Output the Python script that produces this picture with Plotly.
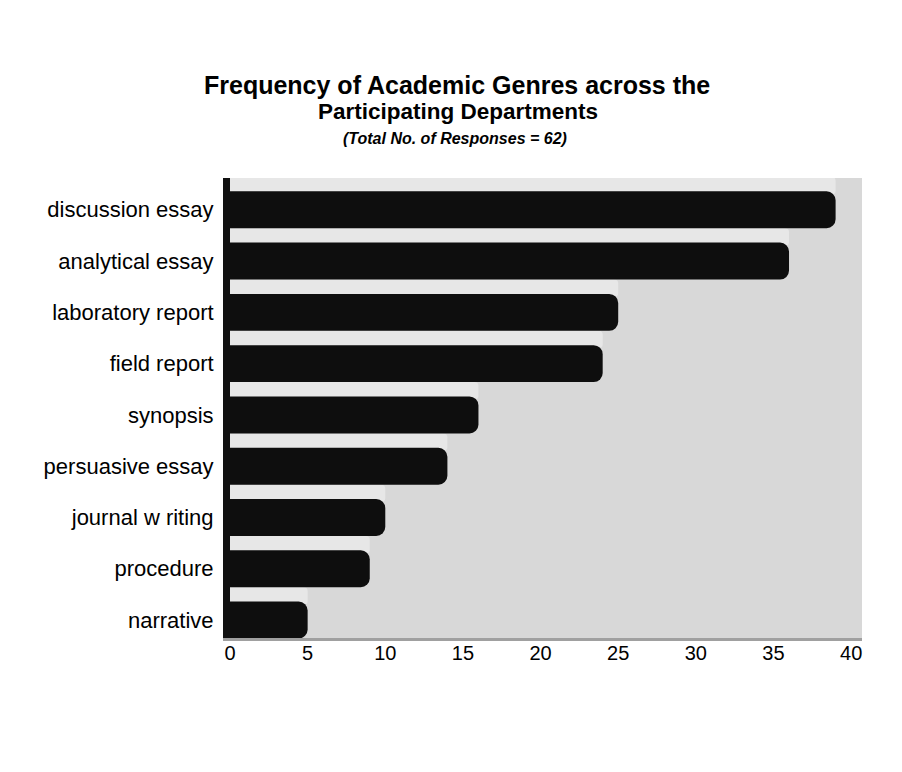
import plotly.graph_objects as go

categories = ["discussion essay", "analytical essay", "laboratory report", "field report",
              "synopsis", "persuasive essay", "journal w riting", "procedure", "narrative"]
values = [39, 36, 25, 24, 16, 14, 10, 9, 5]
x_ticks = [0, 5, 10, 15, 20, 25, 30, 35, 40]

FONT = "Liberation Sans, Arial, sans-serif"

# page offset of 8px (default body margin) is compensated in the margins
L, R, T, B = 222, 48, 170, 142
W, H = 902, 772
PW, PH = W - L - R, H - T - B


def px(xp):
    return (xp - 8 - L) / PW


def py(yp):
    return (H - B - (yp - 8)) / PH


fig = go.Figure()
# lighter top face (3D depth strip)
fig.add_trace(go.Bar(
    y=categories, x=values, orientation="h",
    offset=-0.64, width=0.34,
    marker=dict(color="#e7e7e7", line=dict(width=0), cornerradius=4),
    hoverinfo="skip", showlegend=False,
))
# dark front face
fig.add_trace(go.Bar(
    y=categories, x=values, orientation="h",
    offset=-0.36, width=0.72,
    marker=dict(color="#0e0e0e", line=dict(width=0), cornerradius=9),
    showlegend=False,
))

fig.update_layout(
    width=W, height=H,
    margin=dict(l=L, r=R, t=T, b=B, autoexpand=False),
    paper_bgcolor="white",
    plot_bgcolor="#d8d8d8",
    barmode="overlay",
    font=dict(family=FONT, color="black", size=16),
    xaxis=dict(range=[0, 40.7], tickvals=x_ticks, ticktext=[str(t) for t in x_ticks],
               showgrid=False, zeroline=False, showline=True, linecolor="#a0a0a0",
               linewidth=3, ticks="", ticklabelstandoff=-5,
               tickfont=dict(size=20, family=FONT)),
    yaxis=dict(type="category", categoryorder="array", categoryarray=categories,
               range=[8.35, -0.62], showgrid=False, zeroline=False,
               showline=True, linecolor="#111111", linewidth=7,
               ticks="", ticklabelstandoff=5, tickfont=dict(size=22, family=FONT)),
    annotations=[
        dict(text="<b>Frequency of Academic Genres across the</b>", x=px(457), xref="paper",
             y=py(85), yref="paper", showarrow=False, xanchor="center", yanchor="middle",
             font=dict(size=25, family=FONT)),
        dict(text="<b>Participating Departments</b>", x=px(458), xref="paper",
             y=py(112), yref="paper", showarrow=False, xanchor="center", yanchor="middle",
             font=dict(size=22.5, family=FONT)),
        dict(text="<b><i>(Total No. of Responses = 62)</i></b>", x=px(455), xref="paper",
             y=py(138), yref="paper", showarrow=False, xanchor="center", yanchor="middle",
             font=dict(size=16, family=FONT)),
    ],
)

fig.write_html("out.html")
